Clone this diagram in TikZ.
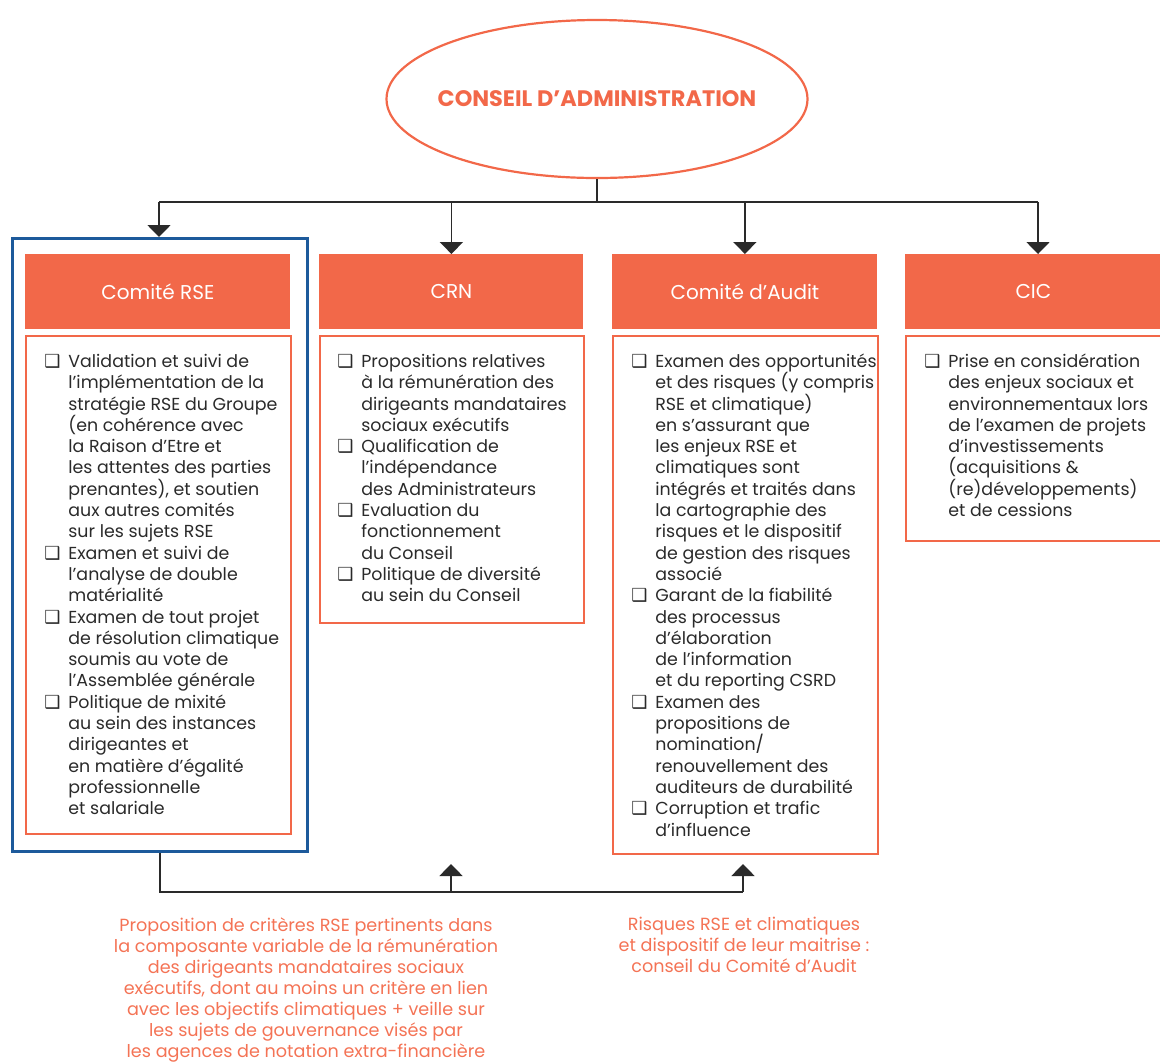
\documentclass[tikz,border=0pt]{standalone}
\usepackage{fontspec}
\setmainfont{Poppins}
\newfontfamily\dejavu{DejaVu Sans}
\usetikzlibrary{arrows.meta,shapes.geometric}
\definecolor{orng}{HTML}{F26849}
\definecolor{orngtxt}{HTML}{F47355}
\definecolor{blu}{HTML}{1D5A9B}
\definecolor{ink}{HTML}{2A2A2A}
\newcommand{\cbx}{\llap{{\dejavu\fontsize{9}{8}\selectfont ❑}\hspace{4pt}}}
\newcommand{\fst}{\rule{0pt}{8pt}}
\tikzset{
  hdr/.style={rectangle, fill=orng, text=white, anchor=north west, inner sep=0pt,
    font=\fontsize{10}{12}\selectfont},
  cbox/.style={rectangle, draw=orng, line width=1pt, anchor=north west, inner sep=0pt},
  body/.style={align=left, inner sep=0pt, text=ink, anchor=north west,
    font=\fontsize{8.7}{10.65}\selectfont},
  btxt/.style={align=center, inner sep=0pt, text=orngtxt, anchor=north,
    font=\fontsize{8.8}{10.5}\selectfont},
  wire/.style={draw=ink, line width=0.9pt},
  arr/.style={wire, -{Triangle[width=11.5pt,length=6pt]}}
}
\begin{document}
\begin{tikzpicture}[x=0.5pt,y=-0.5pt]
\useasboundingbox (0,0) rectangle (1160,1062);
% top ellipse
\node[ellipse, draw=orng, line width=1.1pt, minimum width=210.5pt, minimum height=79pt,
  inner sep=0pt] (ca) at (597,99) {};
\node[inner sep=0pt, text=orng, font=\bfseries\fontsize{11.2}{13}\selectfont] (catxt)
  at (ca.center) {CONSEIL D’ADMINISTRATION};
% RSE blue frame
\node[rectangle, draw=blu, line width=1.5pt, anchor=north west, inner sep=0pt,
  minimum width=147.5pt, minimum height=306.5pt] (rse) at (11,237) {};
% headers
\node[hdr, minimum width=132.5pt, minimum height=37.5pt] (h1) at (25,254) {Comité RSE};
\node[hdr, minimum width=132pt, minimum height=37.5pt] (h2) at (319,254) {CRN};
\node[hdr, minimum width=132.5pt, minimum height=37.5pt] (h3) at (612,254) {Comité d’Audit};
\node[hdr, minimum width=133pt, minimum height=37.5pt] (h4) at (905,254) {\hspace*{-5pt}CIC};
% content boxes
\node[cbox, minimum width=132.5pt, minimum height=249pt] (c1) at (25,335) {};
\node[cbox, minimum width=132pt, minimum height=143.5pt] (c2) at (319,335) {};
\node[cbox, minimum width=132.5pt, minimum height=259pt] (c3) at (612,335) {};
\node[cbox, minimum width=133pt, minimum height=102.5pt] (c4) at (905,335) {};
% texts
\node[body] (t1) at (68,351) {\fst\cbx Validation et suivi de\\
l’implémentation de la\\
stratégie RSE du Groupe\\
(en cohérence avec\\
la Raison d’Etre et\\
les attentes des parties\\
prenantes), et soutien\\
aux autres comités\\
sur les sujets RSE\\
\cbx Examen et suivi de\\
l’analyse de double\\
matérialité\\
\cbx Examen de tout projet\\
de résolution climatique\\
soumis au vote de\\
l’Assemblée générale\\
\cbx Politique de mixité\\
au sein des instances\\
dirigeantes et\\
en matière d’égalité\\
professionnelle\\
et salariale};
\node[body] (t2) at (361,351) {\fst\cbx Propositions relatives\\
à la rémunération des\\
dirigeants mandataires\\
sociaux exécutifs\\
\cbx Qualification de\\
l’indépendance\\
des Administrateurs\\
\cbx Evaluation du\\
fonctionnement\\
du Conseil\\
\cbx Politique de diversité\\
au sein du Conseil};
\node[body] (t3) at (655,351) {\fst\cbx Examen des opportunités\\
et des risques (y compris\\
RSE et climatique)\\
en s’assurant que\\
les enjeux RSE et\\
climatiques sont\\
intégrés et traités dans\\
la cartographie des\\
risques et le dispositif\\
de gestion des risques\\
associé\\
\cbx Garant de la fiabilité\\
des processus\\
d’élaboration\\
de l’information\\
et du reporting CSRD\\
\cbx Examen des\\
propositions de\\
nomination/\\
renouvellement des\\
auditeurs de durabilité\\
\cbx Corruption et trafic\\
d’influence};
\node[body] (t4) at (948,351) {\fst\cbx Prise en considération\\
des enjeux sociaux et\\
environnementaux lors\\
de l’examen de projets\\
d’investissements\\
(acquisitions \&\\
(re)développements)\\
et de cessions};
% bottom texts
\node[btxt] (b1) at (306,915) {\fst Proposition de critères RSE pertinents dans\\
la composante variable de la rémunération\\
des dirigeants mandataires sociaux\\
exécutifs, dont au moins un critère en lien\\
avec les objectifs climatiques + veille sur\\
les sujets de gouvernance visés par\\
les agences de notation extra-financière};
\node[btxt] (b2) at (744,914) {\fst Risques RSE et climatiques\\
et dispositif de leur maitrise :\\
conseil du Comité d’Audit};
% top connectors
\coordinate (busL) at (159,202);
\coordinate (busR) at (1038,202);
\draw[wire] (ca.south) -- (ca.south |- busL);
\draw[wire] (busL) -- (busR);
\draw[arr] (busL) -- (busL |- rse.north);
\draw[arr] (h2.north |- busL) -- (h2.north);
\draw[arr] (h3.north |- busL) -- (h3.north);
\draw[arr] (busR) -- (busR |- h4.north);
% bottom connectors
\coordinate (bm) at (451,892);
\coordinate (br) at (743,892);
\coordinate (tm) at (451,864);
\coordinate (tr) at (743,864);
\draw[wire] (rse.south) |- (br);
\draw[arr] (bm) -- (tm);
\draw[arr] (br) -- (tr);
\end{tikzpicture}
\end{document}
